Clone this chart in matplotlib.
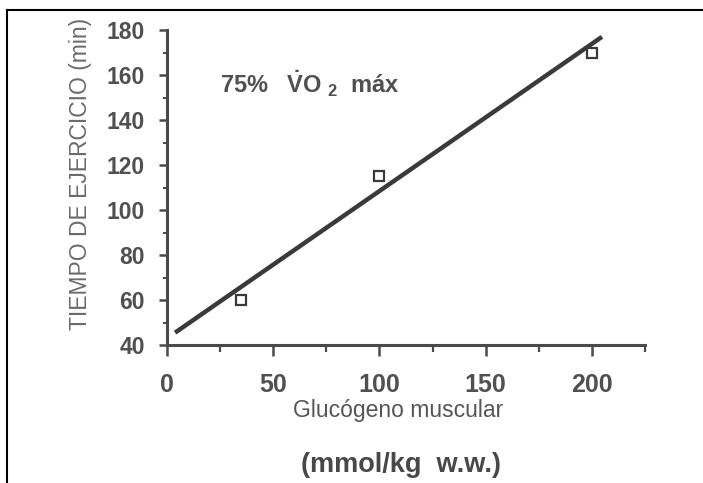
import matplotlib.pyplot as plt
from matplotlib.lines import Line2D
from matplotlib.ticker import MultipleLocator

# glycogen (mmol/kg w.w.) vs exercise time (min) at 75% VO2max
glucogeno = [35, 100, 200]
tiempo = [60, 115, 170]
# fitted regression line, end points
recta_x = [3.8, 204.7]
recta_y = [45.5, 177]

x_ticks = [0, 50, 100, 150, 200]
y_ticks = [40, 60, 80, 100, 120, 140, 160, 180]

plt.rcParams['font.family'] = ['Liberation Sans', 'DejaVu Sans']
plt.rcParams['mathtext.fontset'] = 'custom'
plt.rcParams['mathtext.rm'] = 'Liberation Sans:bold'
plt.rcParams['mathtext.it'] = 'Liberation Sans:bold'

gris = "#4a4a4a"
fig = plt.figure(figsize=(7.03, 4.83), dpi=100)
ax = fig.add_axes([0.2376, 0.2857, 0.680, 0.652])

ax.plot(recta_x, recta_y, '-', color="#3a3a3a", lw=3.2, solid_capstyle='butt')
ax.plot(glucogeno, tiempo, 's', ms=6.5, mfc='white', mec="#3a3a3a", mew=1.6)

ax.set_xlim(0, 225)
ax.set_ylim(40, 180)
ax.set_xticks(x_ticks)
ax.set_yticks(y_ticks)
ax.xaxis.set_minor_locator(MultipleLocator(25))
ax.yaxis.set_minor_locator(MultipleLocator(10))

for s in ['top', 'right']:
    ax.spines[s].set_visible(False)
for s in ['left', 'bottom']:
    ax.spines[s].set_color(gris)
    ax.spines[s].set_linewidth(2.2)

ax.tick_params(axis='x', which='major', length=8, width=1.8, color=gris,
               labelsize=18, labelcolor="#505050", pad=12)
ax.tick_params(axis='x', which='minor', length=5, width=1.6, color=gris)
ax.tick_params(axis='y', which='major', length=6, width=1.8, color=gris,
               labelsize=16.5, labelcolor="#505050", pad=10)
ax.tick_params(axis='y', which='minor', length=3, width=1.4, color=gris)
for lab in ax.get_xticklabels() + ax.get_yticklabels():
    lab.set_fontweight('bold')

ax.text(25, 156, r"75%   $\dot{\mathrm{V}}\mathrm{O}_{\;\,2}$  máx", fontsize=17,
        fontweight='bold', color="#505050", va='center', ha='left')

fig.text(0.115, 0.64, "TIEMPO DE EJERCICIO (min)", rotation=90, fontsize=16.5,
         color="#6a6a6a", ha='center', va='center')
fig.text(0.566, 0.151, "Glucógeno muscular", fontsize=16.5, color="#555555",
         ha='center', va='center')
fig.text(0.571, 0.037, "(mmol/kg  w.w.)", fontsize=19.5, fontweight='bold',
         color="#484848", ha='center', va='center')

# page frame
fig.add_artist(Line2D([0.010, 0.010], [0.0, 0.979], color='black', lw=1.5))
fig.add_artist(Line2D([0.010, 1.0], [0.979, 0.979], color='black', lw=1.5))

fig.savefig("out.png", dpi=100)
